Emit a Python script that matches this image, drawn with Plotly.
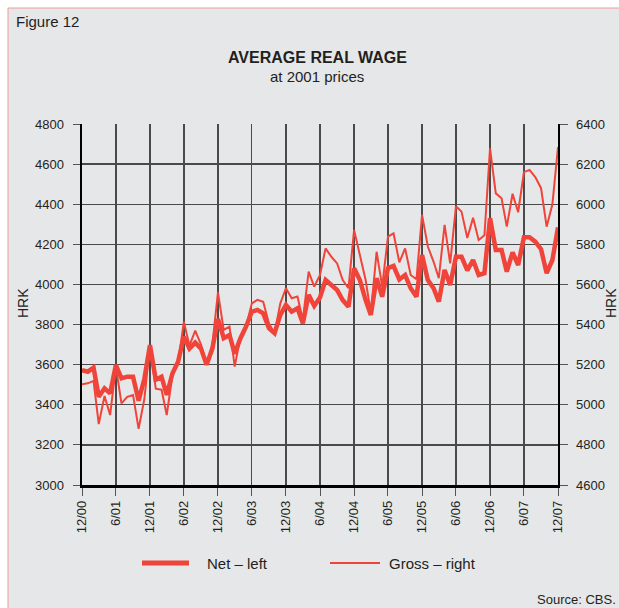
import pandas as pd
import plotly.graph_objects as go

# ---- data ----
months = pd.date_range("2000-12-01", periods=85, freq="MS")

net_left = [3573, 3565, 3585, 3440, 3482, 3457, 3598, 3532, 3540, 3540,
            3420, 3530, 3698, 3525, 3540, 3449, 3557, 3615, 3740, 3680,
            3710, 3680, 3600, 3680, 3828, 3732, 3748, 3655, 3732, 3790,
            3864, 3873, 3856, 3782, 3757, 3848, 3898, 3864, 3881, 3806,
            3948, 3893, 3935, 4022, 3997, 3972, 3922, 3889, 4081, 4022,
            3922, 3848, 4031, 3939, 4081, 4092, 4025, 4047, 3981, 3939,
            4147, 4022, 3981, 3914, 4072, 3997, 4138, 4138, 4070, 4122,
            4047, 4056, 4330, 4172, 4172, 4064, 4160, 4097, 4235, 4235,
            4213, 4176, 4056, 4122, 4285]

gross_right = [5102, 5107, 5119, 4904, 5044, 4949, 5190, 5007, 5040, 5049,
               4880, 5030, 5298, 5080, 5075, 4949, 5149, 5207, 5414, 5295,
               5370, 5300, 5200, 5300, 5560, 5373, 5390, 5190, 5340, 5390,
               5506, 5523, 5514, 5405, 5357, 5506, 5581, 5531, 5540, 5423,
               5664, 5589, 5647, 5780, 5738, 5705, 5622, 5581, 5872, 5747,
               5622, 5456, 5763, 5589, 5839, 5855, 5710, 5780, 5647, 5626,
               5947, 5789, 5713, 5631, 5897, 5705, 5990, 5963, 5832, 5932,
               5822, 5845, 6279, 6054, 6030, 5888, 6052, 5960, 6160, 6171,
               6135, 6080, 5888, 6000, 6285]

tick_labels = ["12/00", "6/01", "12/01", "6/02", "12/02", "6/03", "12/03",
               "6/04", "12/04", "6/05", "12/05", "6/06", "12/06", "6/07", "12/07"]
tick_dates = months[::6]

left_ticks = [3000, 3200, 3400, 3600, 3800, 4000, 4200, 4400, 4600, 4800]
right_ticks = [4600, 4800, 5000, 5200, 5400, 5600, 5800, 6000, 6200, 6400]

# ---- style ----
RED = "#f0443a"
BG = "#e6e7e9"
INK = "#231f20"
GRID = "#4a4a4a"
FONT = "Liberation Sans, Arial, Helvetica, sans-serif"

W, H = 619, 608
L, R, T, B = 82, 558, 124, 485
PW, PH = R - L, B - T


def px(x):
    return (x - L) / PW


def py(y):
    return (B - y) / PH


fig = go.Figure()
fig.add_trace(go.Scatter(x=months, y=net_left, name="Net – left", mode="lines",
                         line=dict(color=RED, width=4.5), yaxis="y"))
fig.add_trace(go.Scatter(x=months, y=gross_right, name="Gross – right", mode="lines",
                         line=dict(color=RED, width=2), yaxis="y2"))

axis_font = dict(family=FONT, size=13, color=INK)

fig.update_layout(
    width=W, height=H,
    margin=dict(l=L, r=W - R, t=T, b=H - B, pad=0),
    paper_bgcolor="white",
    plot_bgcolor=BG,
    showlegend=False,
    font=dict(family=FONT, color=INK),
    xaxis=dict(
        type="date",
        range=[months[0], months[-1]],
        tickvals=list(tick_dates), ticktext=tick_labels,
        tickangle=-90, tickfont=axis_font,
        ticks="outside", ticklen=8, tickcolor="#555555", tickwidth=1,
        showgrid=True, gridcolor=GRID, gridwidth=1.3,
        showline=True, linecolor="black", linewidth=2.5,
        zeroline=False, fixedrange=True,
    ),
    yaxis=dict(
        range=[3000, 4800], tickvals=left_ticks,
        tickfont=axis_font,
        ticks="outside", ticklen=7, tickcolor="#555555", tickwidth=1,
        ticklabelstandoff=6,
        showgrid=True, gridcolor=GRID, gridwidth=1.3,
        showline=True, linecolor="black", linewidth=2.5,
        zeroline=False, fixedrange=True,
    ),
    yaxis2=dict(
        range=[4600, 6400], tickvals=right_ticks,
        overlaying="y", side="right",
        tickfont=axis_font,
        ticks="outside", ticklen=8, tickcolor="#555555", tickwidth=1,
        ticklabelstandoff=6,
        showgrid=False,
        showline=True, linecolor="black", linewidth=1.5,
        zeroline=False, fixedrange=True,
    ),
)

# frame of the figure panel
fig.add_shape(type="rect", xref="paper", yref="paper",
              x0=px(8), x1=px(W + 40), y0=py(H + 40), y1=py(8),
              fillcolor=BG, line=dict(color="#f19a9a", width=1), layer="below")

ann = []
ann.append(dict(text="Figure 12", x=px(14), y=py(21), xanchor="left", yanchor="middle",
                font=dict(size=15)))
ann.append(dict(text="<b>AVERAGE REAL WAGE</b>", x=px(317), y=py(58), xanchor="center",
                yanchor="middle", font=dict(size=16)))
ann.append(dict(text="at 2001 prices", x=px(317), y=py(77), xanchor="center",
                yanchor="middle", font=dict(size=15)))
ann.append(dict(text="HRK", x=px(23), y=py(303), xanchor="center", yanchor="middle",
                textangle=-90, font=dict(size=14)))
ann.append(dict(text="HRK", x=px(611), y=py(303), xanchor="center", yanchor="middle",
                textangle=-90, font=dict(size=14)))
ann.append(dict(text="Source: CBS.", x=px(618), y=py(599), xanchor="right",
                yanchor="middle", font=dict(size=13)))
# legend
ann.append(dict(text="Net – left", x=px(205), y=py(563), xanchor="left", yanchor="middle",
                font=dict(size=15)))
ann.append(dict(text="Gross – right", x=px(387), y=py(563), xanchor="left",
                yanchor="middle", font=dict(size=15)))
for a in ann:
    a.update(xref="paper", yref="paper", showarrow=False)
fig.update_layout(annotations=ann)

fig.add_shape(type="line", xref="paper", yref="paper", x0=px(142), x1=px(189),
              y0=py(563), y1=py(563), line=dict(color=RED, width=5))
fig.add_shape(type="line", xref="paper", yref="paper", x0=px(330), x1=px(380),
              y0=py(563), y1=py(563), line=dict(color=RED, width=2))

fig.write_html("out.html", config={"displayModeBar": False, "staticPlot": True},
               post_script="document.body.style.margin='0';document.body.style.overflow='hidden';")
